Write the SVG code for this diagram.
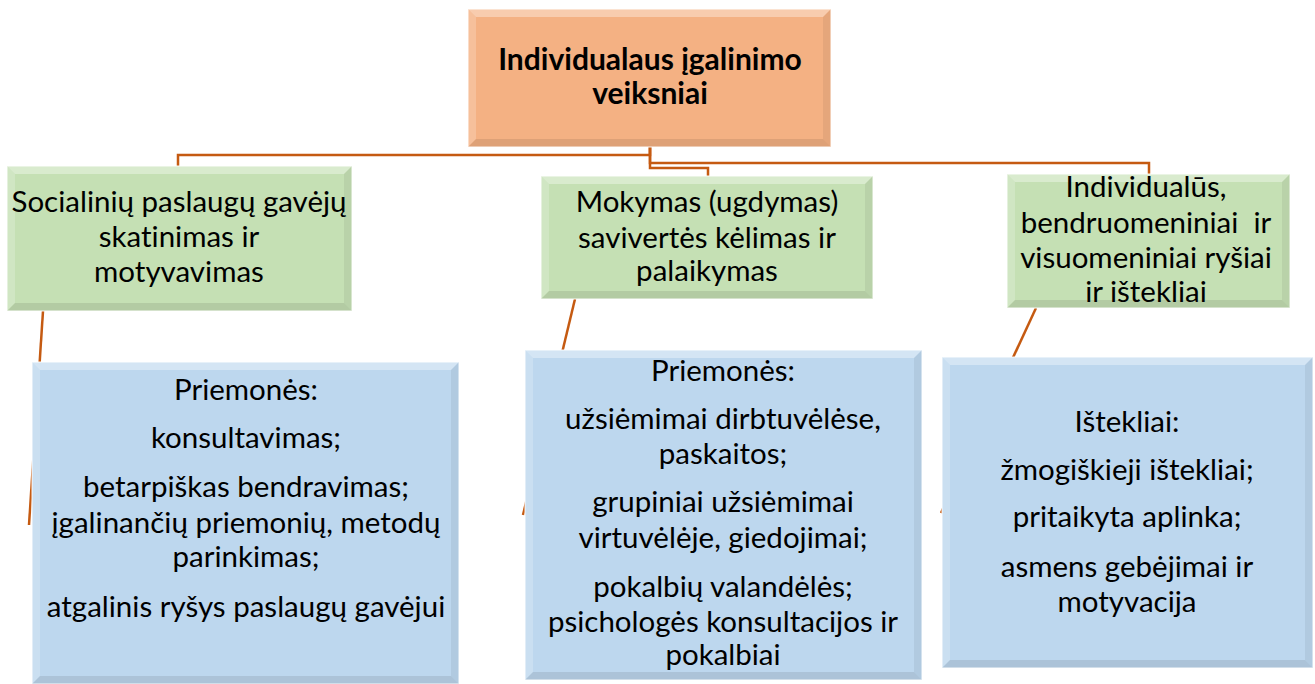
<svg xmlns="http://www.w3.org/2000/svg" width="1315" height="684" viewBox="0 0 1315 684">
<style>
.conn{fill:none;stroke:#C55A11;stroke-width:2.5}
.org{fill:#F4B183}
.grn{fill:#C5E0B4}
.blu{fill:#BDD7EE}
.hi{fill:#FFFFFF;fill-opacity:0.35}
.hs{fill:#FFFFFF;fill-opacity:0.2}
.sh{fill:#000000;fill-opacity:0.06}
.sb{fill:#000000;fill-opacity:0.09}
.edge{fill:none;stroke:#FFFFFF;stroke-opacity:0.6;stroke-width:1.5}
text{font-family:Lato,"Open Sans","Liberation Sans",sans-serif;font-size:29.5px;fill:#000;text-anchor:middle;font-variant-ligatures:none;font-feature-settings:"liga" 0}
.b{font-weight:bold;font-size:30px}
</style>
<rect width="1315" height="684" fill="#FFFFFF"/>
<g id="connectors">
<path class="conn" d="M650 147 V155 H178 V166"/>
<path class="conn" d="M650 147 V163 H1149 V174"/>
<path class="conn" d="M650 147 V168 H708 V176"/>
<line class="conn" x1="43" y1="311" x2="29" y2="525"/>
<line class="conn" x1="575" y1="299" x2="523" y2="515"/>
<line class="conn" x1="1036" y1="308" x2="941" y2="513"/>
</g>
<g id="root">
<rect class="org" x="468" y="9" width="363" height="138"/>
<polygon class="hi" points="468,9 831,9 823,17 476,17"/>
<polygon class="hs" points="468,9 476,17 476,139 468,147"/>
<polygon class="sh" points="831,9 831,147 823,139 823,17"/>
<polygon class="sb" points="468,147 831,147 823,139 476,139"/>
<rect class="edge" x="468" y="9" width="363" height="138"/>
<text class="b" x="650" y="70">Individualaus įgalinimo</text>
<text class="b" x="650" y="104">veiksniai</text>
</g>
<g id="g1">
<rect class="grn" x="7" y="166" width="345" height="145"/>
<polygon class="hi" points="7,166 352,166 344,174 15,174"/>
<polygon class="hs" points="7,166 15,174 15,303 7,311"/>
<polygon class="sh" points="352,166 352,311 344,303 344,174"/>
<polygon class="sb" points="7,311 352,311 344,303 15,303"/>
<rect class="edge" x="7" y="166" width="345" height="145"/>
<text x="179" y="212">Socialinių paslaugų gavėjų</text>
<text x="179" y="247">skatinimas ir</text>
<text x="179" y="282">motyvavimas</text>
</g>
<g id="g2">
<rect class="grn" x="541" y="176" width="332" height="123"/>
<polygon class="hi" points="541,176 873,176 865,184 549,184"/>
<polygon class="hs" points="541,176 549,184 549,291 541,299"/>
<polygon class="sh" points="873,176 873,299 865,291 865,184"/>
<polygon class="sb" points="541,299 873,299 865,291 549,291"/>
<rect class="edge" x="541" y="176" width="332" height="123"/>
<text x="707" y="212">Mokymas (ugdymas)</text>
<text x="707" y="248">savivertės kėlimas ir</text>
<text x="707" y="281">palaikymas</text>
</g>
<g id="g3">
<rect class="grn" x="1007" y="174" width="283" height="134"/>
<polygon class="hi" points="1007,174 1290,174 1282,182 1015,182"/>
<polygon class="hs" points="1007,174 1015,182 1015,300 1007,308"/>
<polygon class="sh" points="1290,174 1290,308 1282,300 1282,182"/>
<polygon class="sb" points="1007,308 1290,308 1282,300 1015,300"/>
<rect class="edge" x="1007" y="174" width="283" height="134"/>
<text x="1146" y="197">Individualūs,</text>
<text x="1146" y="233" xml:space="preserve">bendruomeniniai  ir</text>
<text x="1146" y="268">visuomeniniai ryšiai</text>
<text x="1146" y="302">ir ištekliai</text>
</g>
<g id="b1">
<rect class="blu" x="32" y="362" width="427" height="322"/>
<polygon class="hi" points="32,362 459,362 451,370 40,370"/>
<polygon class="hs" points="32,362 40,370 40,676 32,684"/>
<polygon class="sh" points="459,362 459,684 451,676 451,370"/>
<polygon class="sb" points="32,684 459,684 451,676 40,676"/>
<rect class="edge" x="32" y="362" width="427" height="322"/>
<text x="246" y="400">Priemonės:</text>
<text x="246" y="448">konsultavimas;</text>
<text x="246" y="497">betarpiškas bendravimas;</text>
<text x="246" y="533">įgalinančių priemonių, metodų</text>
<text x="246" y="567">parinkimas;</text>
<text x="246" y="617">atgalinis ryšys paslaugų gavėjui</text>
</g>
<g id="b2">
<rect class="blu" x="525" y="350" width="397" height="330"/>
<polygon class="hi" points="525,350 922,350 914,358 533,358"/>
<polygon class="hs" points="525,350 533,358 533,672 525,680"/>
<polygon class="sh" points="922,350 922,680 914,672 914,358"/>
<polygon class="sb" points="525,680 922,680 914,672 533,672"/>
<rect class="edge" x="525" y="350" width="397" height="330"/>
<text x="723" y="381">Priemonės:</text>
<text x="723" y="429">užsiėmimai dirbtuvėlėse,</text>
<text x="723" y="464">paskaitos;</text>
<text x="723" y="512">grupiniai užsiėmimai</text>
<text x="723" y="548">virtuvėlėje, giedojimai;</text>
<text x="723" y="597">pokalbių valandėlės;</text>
<text x="723" y="632">psichologės konsultacijos ir</text>
<text x="723" y="665">pokalbiai</text>
</g>
<g id="b3">
<rect class="blu" x="942" y="357" width="371" height="311"/>
<polygon class="hi" points="942,357 1313,357 1305,365 950,365"/>
<polygon class="hs" points="942,357 950,365 950,660 942,668"/>
<polygon class="sh" points="1313,357 1313,668 1305,660 1305,365"/>
<polygon class="sb" points="942,668 1313,668 1305,660 950,660"/>
<rect class="edge" x="942" y="357" width="371" height="311"/>
<text x="1127" y="432">Ištekliai:</text>
<text x="1127" y="480">žmogiškieji ištekliai;</text>
<text x="1127" y="527">pritaikyta aplinka;</text>
<text x="1127" y="577">asmens gebėjimai ir</text>
<text x="1127" y="612">motyvacija</text>
</g>
</svg>
